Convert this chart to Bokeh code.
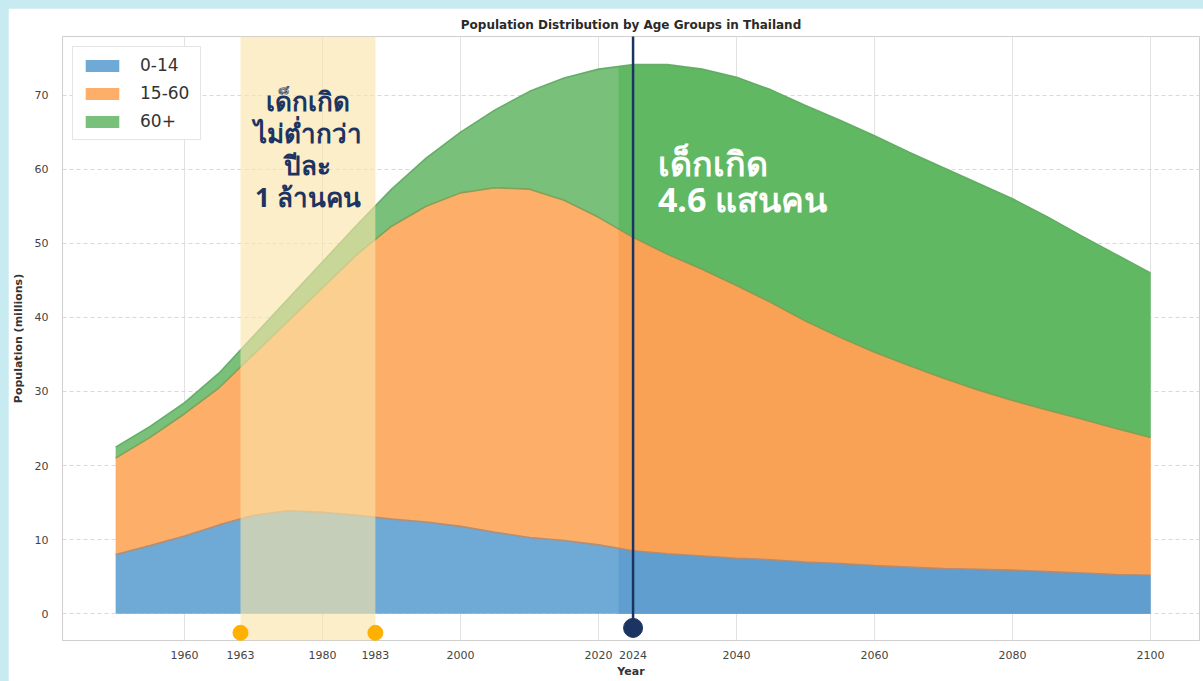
import numpy as np
from bokeh.plotting import figure
from bokeh.models import (Legend, LegendItem, BoxAnnotation, Label, FixedTicker,
                          ColumnDataSource, Range1d)
from bokeh.embed import file_html
from bokeh.resources import INLINE

# ---------------- data (millions) ----------------
years = [1950, 1955, 1960, 1965, 1970, 1975, 1980, 1985, 1990, 1995, 2000,
         2005, 2010, 2015, 2020, 2025, 2030, 2035, 2040, 2045, 2050, 2055,
         2060, 2065, 2070, 2075, 2080, 2085, 2090, 2095, 2100]
age_0_14 = [8.0, 9.2, 10.5, 12.0, 13.3, 13.9, 13.7, 13.3, 12.8, 12.4, 11.8,
            11.0, 10.3, 9.9, 9.3, 8.5, 8.1, 7.8, 7.5, 7.3, 7.0, 6.8,
            6.5, 6.3, 6.1, 6.0, 5.9, 5.7, 5.5, 5.3, 5.2]
age_15_60 = [13.0, 14.6, 16.5, 18.5, 21.7, 25.6, 30.3, 35.2, 39.5, 42.6, 45.0,
             46.5, 47.0, 45.9, 44.2, 42.3, 40.4, 38.7, 36.8, 34.7, 32.5, 30.5,
             28.8, 27.2, 25.7, 24.2, 22.9, 21.8, 20.8, 19.7, 18.6]
age_60_plus = [1.5, 1.5, 1.5, 2.0, 2.5, 3.0, 3.5, 4.0, 5.0, 6.5, 8.2,
               10.5, 13.2, 16.5, 20.0, 23.3, 25.6, 27.0, 28.1, 28.7, 29.1, 29.3,
               29.2, 28.8, 28.4, 27.9, 27.2, 26.1, 24.7, 23.5, 22.2]
series_labels = ["0-14", "15-60", "60+"]
x_ticks = [1960, 1980, 2000, 2020, 2040, 2060, 2080, 2100]
y_ticks = [0, 10, 20, 30, 40, 50, 60, 70]

# annotation markers (positions as drawn in the picture) and their labels
band_x = [1968.1, 1987.65]
band_labels = ["1963", "1983"]
now_x = 2025.0
now_label = "2024"
shade_from = 2022.9
band_text = "เด็กเกิด\nไม่ต่ำกว่า\nปีละ\n1 ล้านคน"
now_text = "เด็กเกิด\n4.6 แสนคน"

# ---------------- figure ----------------
FILL = ["#6faad6", "#fdae68", "#79c17b"]
FILL_RIGHT = ["#609ed0", "#f9a255", "#61b863"]
EDGE = ["#b08a70", "#7f9c52", "#5fa860"]
NAVY = "#1c3461"
THAI = "Noto Sans"
BASE = "DejaVu Sans"

p = figure(width=1195, height=673, output_backend="svg", toolbar_location=None,
           title="Population Distribution by Age Groups in Thailand",
           x_range=Range1d(1942.3, 2107.1), y_range=Range1d(-3.6, 77.9),
           min_border_left=52, min_border_right=4, min_border_top=28,
           min_border_bottom=41)
p.background_fill_color = "white"
p.border_fill_color = "white"
p.outline_line_color = "#cfcfcf"

p.title.align = "center"
p.title.text_font = BASE
p.title.text_font_size = "12px"
p.title.text_font_style = "bold"
p.title.text_color = "#2a2a2a"

src = ColumnDataSource(dict(year=years, a=age_0_14, b=age_15_60, c=age_60_plus))
areas = p.varea_stack(["a", "b", "c"], x="year", source=src,
                      color=FILL, fill_alpha=1.0)

# right part of the chart is shown in slightly deeper tones
yr = np.array(years, dtype=float)
mask = yr > shade_from
rx = np.concatenate([[shade_from], yr[mask]])
def right_part(vals):
    v = np.array(vals, dtype=float)
    return np.concatenate([[np.interp(shade_from, yr, v)], v[mask]])
src_r = ColumnDataSource(dict(year=rx, a=right_part(age_0_14),
                              b=right_part(age_15_60), c=right_part(age_60_plus)))
p.varea_stack(["a", "b", "c"], x="year", source=src_r, color=FILL_RIGHT, fill_alpha=1.0)

tops = np.cumsum(np.array([age_0_14, age_15_60, age_60_plus]), axis=0)
for i in range(3):
    p.line(years, tops[i], line_color=EDGE[i], line_width=1.6, line_alpha=0.9)

# highlight band
p.add_layout(BoxAnnotation(left=band_x[0], right=band_x[1], fill_color="#f9e4a8",
                           fill_alpha=0.62, line_color=None))

# vertical "now" line and markers (drawn above the band)
p.segment(x0=[now_x], y0=[-1.9], x1=[now_x], y1=[77.9], line_color=NAVY,
          line_width=2.5, level="overlay")
p.scatter(x=band_x, y=[-2.56, -2.56], size=15, color="#ffb000", level="overlay")
p.scatter(x=[now_x], y=[-1.9], size=19, color=NAVY, level="overlay")

p.add_layout(Label(x=(band_x[0] + band_x[1]) / 2, y=71.6, text=band_text,
                   text_align="center", text_baseline="top", text_font=THAI,
                   text_font_size="26px", text_font_style="bold",
                   text_color=NAVY, text_line_height=0.89))
p.add_layout(Label(x=2028.6, y=64.0, text=now_text, text_align="left",
                   text_baseline="top", text_font=THAI, text_font_size="34px",
                   text_font_style="bold", text_color="white",
                   text_line_height=0.79))

# legend
legend = Legend(items=[LegendItem(label=l, renderers=[r]) for l, r in zip(series_labels, areas)],
                location="top_left", margin=10, padding=8, spacing=8,
                glyph_width=42, glyph_height=15, label_height=20, label_width=52,
                label_standoff=17,
                label_text_font=BASE, label_text_font_size="17px",
                label_text_color="#333333", border_line_color="#cccccc",
                background_fill_alpha=0.95)
p.add_layout(legend)

# axes & grid
p.xaxis.ticker = FixedTicker(ticks=sorted(x_ticks + band_x + [now_x]))
p.xaxis.major_label_overrides = {band_x[0]: band_labels[0], band_x[1]: band_labels[1],
                                 now_x: now_label}
p.yaxis.ticker = FixedTicker(ticks=y_ticks)
for ax in (p.xaxis, p.yaxis):
    ax.axis_line_color = None
    ax.major_tick_line_color = None
    ax.minor_tick_line_color = None
    ax.major_label_text_font = BASE
    ax.major_label_text_font_size = "11px"
    ax.major_label_text_color = "#444444"
    ax.axis_label_text_font = BASE
    ax.axis_label_text_font_style = "bold"
    ax.axis_label_text_color = "#333333"
p.xaxis.axis_label = "Year"
p.xaxis.axis_label_text_font_size = "11px"
p.xaxis.major_label_standoff = 4
p.xaxis.axis_label_standoff = 3
p.yaxis.axis_label = "Population (millions)"
p.yaxis.axis_label_text_font_size = "11px"
p.yaxis.major_label_standoff = 8
p.yaxis.axis_label_standoff = 7

p.xgrid.ticker = FixedTicker(ticks=x_ticks)
p.xgrid.grid_line_color = "#e2e2e2"
p.ygrid.grid_line_color = "#d9d9d9"
p.ygrid.grid_line_dash = "4 3"

html = file_html(p, INLINE)
html = html.replace("</head>",
                    "<style>html,body{background:#c8ebf1;} body{padding:8px 0 0 8px !important;}</style></head>", 1)
open("out.html", "w").write(html)
